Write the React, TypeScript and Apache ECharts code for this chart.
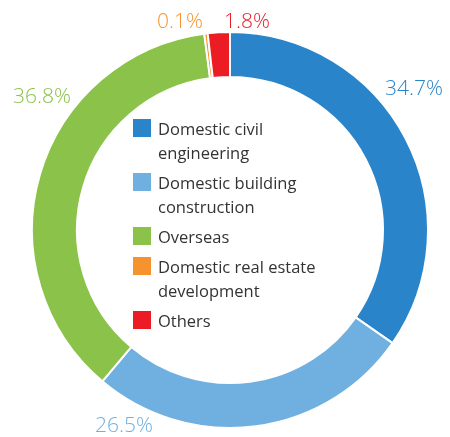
import React, { useEffect, useRef } from "react";
import * as echarts from "echarts";

const categories = [
  "Domestic civil\nengineering",
  "Domestic building\nconstruction",
  "Overseas",
  "Domestic real estate\ndevelopment",
  "Others",
];
const shares = [34.7, 26.5, 36.8, 0.1, 1.8];
const shareLabels = ["34.7%", "26.5%", "36.8%", "0.1%", "1.8%"];
const colors = ["#2a84c9", "#6fb0e0", "#8bc34a", "#f7932f", "#ec1c24"];

// label anchor positions (pixels) for the percentage texts
const labelPos: [number, number][] = [
  [414, 87],
  [124, 424],
  [42, 95],
  [180, 20],
  [247, 20],
];

const FONT = "'Open Sans', 'Noto Sans', sans-serif";

export default function App() {
  const ref = useRef<HTMLDivElement>(null);
  useEffect(() => {
    if (!ref.current) return;
    const chart = echarts.init(ref.current, null, { renderer: "svg" });

    const legendEls: any[] = [];
    let top = 119;
    categories.forEach((c, i) => {
      const lines = c.split("\n").length;
      legendEls.push({
        type: "rect",
        shape: { x: 133, y: top, width: 18, height: 18 },
        style: { fill: colors[i] },
      });
      legendEls.push({
        type: "text",
        x: 158,
        y: top - 3,
        style: {
          text: c,
          fill: "#333333",
          font: `16.5px ${FONT}`,
          lineHeight: 24,
          verticalAlign: "top",
          align: "left",
        },
      });
      top += lines * 24 + 6;
    });

    chart.setOption({
      animation: false,
      graphic: legendEls,
      series: [
        {
          type: "pie",
          center: [230, 230],
          radius: [153, 198],
          startAngle: 90,
          clockwise: true,
          minAngle: 1,
          avoidLabelOverlap: false,
          itemStyle: { borderColor: "#ffffff", borderWidth: 2 },
          label: {
            show: true,
            position: "outside",
            fontFamily: FONT,
            fontSize: 21,
            lineHeight: 20,
            fontWeight: 300,
            formatter: (p: any) => shareLabels[p.dataIndex],
          },
          labelLine: { show: false },
          labelLayout: (p: any) => ({
            x: labelPos[p.dataIndex][0],
            y: labelPos[p.dataIndex][1],
            align: "center",
            verticalAlign: "middle",
          }),
          emphasis: { disabled: true },
          data: shares.map((v, i) => ({
            name: categories[i],
            value: v,
            itemStyle: { color: colors[i] },
            label: { color: colors[i] },
          })),
        },
      ],
    });
    return () => chart.dispose();
  }, []);
  return (
    <div
      ref={ref}
      style={{ position: "fixed", left: 0, top: 0, width: 450, height: 437 }}
    />
  );
}
